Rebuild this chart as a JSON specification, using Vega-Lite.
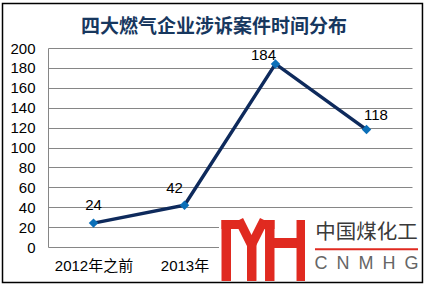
{
  "$schema": "https://vega.github.io/schema/vega-lite/v6.json",
  "width": 364,
  "height": 199,
  "autosize": "none",
  "padding": {"left": 48, "top": 48, "right": 13, "bottom": 38},
  "background": "white",
  "config": {"view": {"stroke": null}},
  "title": {
    "text": "四大燃气企业涉诉案件时间分布",
    "font": "Noto Sans CJK SC",
    "fontSize": 19,
    "fontWeight": "bold",
    "color": "#17375E",
    "anchor": "middle",
    "baseline": "alphabetic",
    "dx": -16,
    "offset": -49
  },
  "data": {
    "values": [
      {"idx": 1, "year": "2012年之前", "cases": 24},
      {"idx": 2, "year": "2013年", "cases": 42},
      {"idx": 3, "year": "2014年", "cases": 184},
      {"idx": 4, "year": "2015年", "cases": 118}
    ]
  },
  "layer": [
    {
      "mark": {"type": "line", "color": "#0E2A5C", "strokeWidth": 3.5},
      "encoding": {
        "x": {
          "field": "idx", "type": "quantitative",
          "scale": {"domain": [0.5, 4.5], "nice": false, "zero": false},
          "axis": {
            "title": null, "values": [1, 2], "tickCount": 4, "grid": false, "domain": false, "ticks": false,
            "labelExpr": "datum.value == 1 ? '2012年之前' : datum.value == 2 ? '2013年' : datum.value == 3 ? '2014年' : '2015年'",
            "labelFont": "Liberation Sans, Noto Sans CJK SC", "labelFontSize": 15, "labelColor": "#000000",
            "labelPadding": 11, "labelOverlap": false
          }
        },
        "y": {
          "field": "cases", "type": "quantitative",
          "scale": {"domain": [0, 200], "nice": false, "zero": false},
          "axis": {
            "title": null, "values": [0, 20, 40, 60, 80, 100, 120, 140, 160, 180, 200], "tickCount": 11,
            "grid": true, "gridColor": "#868686", "gridWidth": 1, "gridOpacity": 1,
            "domain": true, "domainColor": "#868686", "domainWidth": 1,
            "ticks": false, "labelFont": "Liberation Sans", "labelFontSize": 15, "labelColor": "#000000",
            "labelPadding": 13, "labelOverlap": false, "labelFlush": false
          }
        }
      }
    },
    {
      "mark": {"type": "point", "shape": "diamond", "filled": true, "size": 90, "color": "#0B6FB8", "opacity": 1},
      "encoding": {
        "x": {"field": "idx", "type": "quantitative"},
        "y": {"field": "cases", "type": "quantitative"}
      }
    },
    {
      "transform": [{"filter": "datum.idx == 1"}],
      "mark": {"type": "text", "font": "Liberation Sans", "fontSize": 15, "color": "#000000", "dx": 0, "dy": -18.5, "baseline": "middle", "align": "center"},
      "encoding": {
        "x": {"field": "idx", "type": "quantitative"},
        "y": {"field": "cases", "type": "quantitative"},
        "text": {"field": "cases"}
      }
    },
    {
      "transform": [{"filter": "datum.idx == 2"}],
      "mark": {"type": "text", "font": "Liberation Sans", "fontSize": 15, "color": "#000000", "dx": -10, "dy": -17, "baseline": "middle", "align": "center"},
      "encoding": {
        "x": {"field": "idx", "type": "quantitative"},
        "y": {"field": "cases", "type": "quantitative"},
        "text": {"field": "cases"}
      }
    },
    {
      "transform": [{"filter": "datum.idx == 3"}],
      "mark": {"type": "text", "font": "Liberation Sans", "fontSize": 15, "color": "#000000", "dx": -12, "dy": -9, "baseline": "middle", "align": "center"},
      "encoding": {
        "x": {"field": "idx", "type": "quantitative"},
        "y": {"field": "cases", "type": "quantitative"},
        "text": {"field": "cases"}
      }
    },
    {
      "transform": [{"filter": "datum.idx == 4"}],
      "mark": {"type": "text", "font": "Liberation Sans", "fontSize": 15, "color": "#000000", "dx": 9.5, "dy": -15, "baseline": "middle", "align": "center"},
      "encoding": {
        "x": {"field": "idx", "type": "quantitative"},
        "y": {"field": "cases", "type": "quantitative"},
        "text": {"field": "cases"}
      }
    },
    {
      "data": {"values": [{}]},
      "mark": {"type": "rect", "color": "#FFFFFF", "opacity": 1},
      "encoding": {
        "x": {"datum": 2.379, "type": "quantitative"}, "x2": {"datum": 4.6},
        "y": {"datum": 35.2, "type": "quantitative"}, "y2": {"datum": -34.5}
      }
    },
    {
      "data": {"values": [{}]},
      "mark": {"type": "rect", "color": "#E02A20", "opacity": 1},
      "encoding": {
        "x": {"datum": 2.4066, "type": "quantitative"}, "x2": {"datum": 2.511},
        "y": {"datum": 27.14, "type": "quantitative"}, "y2": {"datum": -34.17}
      }
    },
    {
      "data": {"values": [{}]},
      "mark": {"type": "rect", "color": "#E02A20", "opacity": 1},
      "encoding": {
        "x": {"datum": 2.4066, "type": "quantitative"}, "x2": {"datum": 2.621},
        "y": {"datum": 27.14, "type": "quantitative"}, "y2": {"datum": 18.09}
      }
    },
    {
      "data": {"values": [{"p": 1, "px": 2.599, "py": 27.14}, {"p": 2, "px": 2.736, "py": 2.01}, {"p": 3, "px": 2.874, "py": 27.14}]},
      "mark": {"type": "line", "color": "#E02A20", "strokeWidth": 9, "strokeCap": "butt", "strokeJoin": "miter"},
      "encoding": {
        "x": {"field": "px", "type": "quantitative"},
        "y": {"field": "py", "type": "quantitative"},
        "order": {"field": "p"}
      }
    },
    {
      "data": {"values": [{}]},
      "mark": {"type": "rect", "color": "#E02A20", "opacity": 1},
      "encoding": {
        "x": {"datum": 2.687, "type": "quantitative"}, "x2": {"datum": 2.791},
        "y": {"datum": 6.0, "type": "quantitative"}, "y2": {"datum": -34.17}
      }
    },
    {
      "data": {"values": [{}]},
      "mark": {"type": "rect", "color": "#E02A20", "opacity": 1},
      "encoding": {
        "x": {"datum": 2.84, "type": "quantitative"}, "x2": {"datum": 2.989},
        "y": {"datum": 27.14, "type": "quantitative"}, "y2": {"datum": 18.09}
      }
    },
    {
      "data": {"values": [{}]},
      "mark": {"type": "rect", "color": "#E02A20", "opacity": 1},
      "encoding": {
        "x": {"datum": 2.885, "type": "quantitative"}, "x2": {"datum": 2.989},
        "y": {"datum": 27.14, "type": "quantitative"}, "y2": {"datum": -34.17}
      }
    },
    {
      "data": {"values": [{}]},
      "mark": {"type": "rect", "color": "#E02A20", "opacity": 1},
      "encoding": {
        "x": {"datum": 2.98, "type": "quantitative"}, "x2": {"datum": 3.24},
        "y": {"datum": 9.05, "type": "quantitative"}, "y2": {"datum": -1.0}
      }
    },
    {
      "data": {"values": [{}]},
      "mark": {"type": "rect", "color": "#E02A20", "opacity": 1},
      "encoding": {
        "x": {"datum": 3.231, "type": "quantitative"}, "x2": {"datum": 3.324},
        "y": {"datum": 27.14, "type": "quantitative"}, "y2": {"datum": -34.17}
      }
    },
    {
      "data": {"values": [{}]},
      "mark": {"type": "text", "text": "中国煤化工", "font": "Noto Sans CJK SC", "fontSize": 20.5, "color": "#3A3A3A", "align": "center", "baseline": "middle"},
      "encoding": {
        "x": {"datum": 4.0, "type": "quantitative"},
        "y": {"datum": 13.57, "type": "quantitative"}
      }
    },
    {
      "data": {"values": [{}]},
      "mark": {"type": "rule", "color": "#E02A20", "strokeWidth": 2},
      "encoding": {
        "x": {"datum": 3.434, "type": "quantitative"}, "x2": {"datum": 4.566},
        "y": {"datum": -2.31, "type": "quantitative"}
      }
    },
    {
      "data": {"values": [{}]},
      "mark": {"type": "text", "text": "C\u2002N\u2002M\u2002H\u2002G", "font": "Liberation Sans", "fontSize": 18, "color": "#666666", "align": "center", "baseline": "middle"},
      "encoding": {
        "x": {"datum": 4.0, "type": "quantitative"},
        "y": {"datum": -17.4, "type": "quantitative"}
      }
    },
    {
      "data": {"values": [{}]},
      "mark": {"type": "rect", "fillOpacity": 0, "stroke": "#000000", "strokeWidth": 1.5},
      "encoding": {
        "x": {"datum": 0.0, "type": "quantitative"}, "x2": {"datum": 4.615},
        "y": {"datum": 244.7, "type": "quantitative"}, "y2": {"datum": -35.7}
      }
    }
  ]
}
